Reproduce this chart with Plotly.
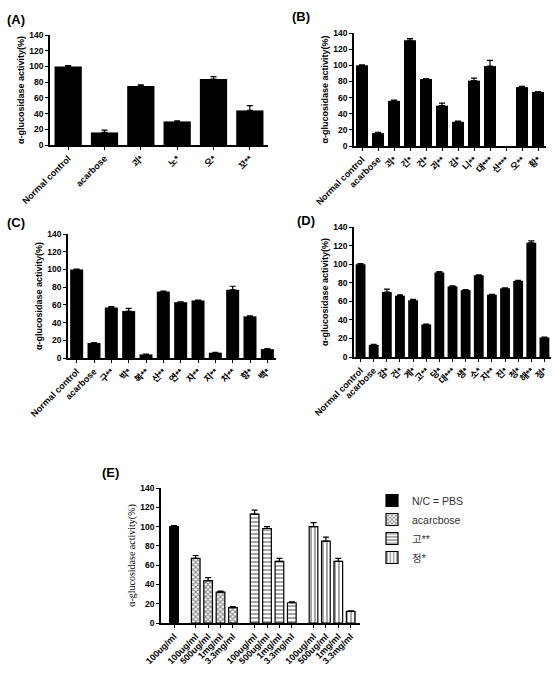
import plotly.graph_objects as go

W, H = 554, 685
FONT = "Arial, Liberation Sans, Noto Sans CJK KR"

# Panel A
a_cats = ["Normal control", "acarbose", "괴*", "노*", "오*", "꼬**"]
a_vals = [100, 16, 75, 30, 84, 44]
a_err = [1, 3, 1.5, 0.8, 3, 6]

# Panel B
b_cats = ["Normal control", "acarbose", "괴*", "긴*", "건*", "괴**", "김*", "니**", "대***", "산***", "오**", "황*"]
b_vals = [100, 16, 56, 131, 83, 50, 30, 81, 99, None, 73, 67]
b_err = [0.5, 1, 1, 2, 0.5, 3, 1, 3, 7, None, 1, 0.5]

# Panel C
c_cats = ["Normal control", "acarbose", "구**", "박*", "복**", "산**", "연**", "자**", "지**", "차**", "향*", "백*"]
c_vals = [100, 17, 57, 53, 4, 75, 63, 65, 6, 77, 47, 10]
c_err = [0.5, 0.5, 1, 3, 0.5, 0.5, 0.5, 0.5, 0.5, 4, 0.5, 0.5]

# Panel D
d_cats = ["Normal control", "acarbose", "감*", "건*", "계*", "고**", "당*", "대***", "생*", "소*", "지**", "진*", "청*", "해**", "정*"]
d_vals = [100, 13, 70, 66, 61, 35, 91, 76, 72, 88, 67, 74, 82, 123, 21]
d_err = [0.5, 0.5, 3, 1, 1, 0.5, 1, 0.5, 0.5, 0.5, 0.5, 0.5, 0.5, 2, 0.5]

# Panel E
e_groups = ["N/C = PBS", "acarcbose", "고**", "정*"]
e_labels = [["100ug/ml"],
            ["100ug/ml", "500ug/ml", "1mg/ml", "3.3mg/ml"],
            ["100ug/ml", "500ug/ml", "1mg/ml", "3.3mg/ml"],
            ["100ug/ml", "500ug/ml", "1mg/ml", "3.3mg/ml"]]
e_vals = [[100], [67, 44, 32, 16], [113, 98, 64, 21], [100, 85, 64, 12]]
e_errs = [[1], [3, 3, 1, 1], [4, 2, 3, 1], [4, 4, 3, 0.5]]
e_patterns = ["", "x", "-", "|"]

fig = go.Figure()

def px_dom_x(a, b):
    return [a / W, b / W]

def px_dom_y(top, bottom):
    return [1 - bottom / H, 1 - top / H]

panels = [
    ("", a_cats, a_vals, a_err, px_dom_x(50, 268), px_dom_y(35, 145)),
    ("2", b_cats, b_vals, b_err, px_dom_x(354, 546), px_dom_y(33, 146)),
    ("3", c_cats, c_vals, c_err, px_dom_x(68, 276), px_dom_y(234, 358)),
    ("4", d_cats, d_vals, d_err, px_dom_x(354, 551), px_dom_y(227, 357)),
]

ytickfont = dict(family=FONT, size=8.5, color="black", weight="bold")
xtickfont = dict(family=FONT, size=9, color="black", weight="bold")
axis_common = dict(showline=True, linecolor="black", color="black", linewidth=1.5, ticks="outside",
                   ticklen=3, tickwidth=1.2, tickcolor="black", showgrid=False, zeroline=False,
                   automargin=False)

for suf, cats, vals, errs, xd, yd in panels:
    fig.add_trace(go.Bar(
        x=cats, y=vals, marker=dict(color="black", line=dict(color="black", width=0)),
        error_y=dict(type="data", array=errs, arrayminus=[0] * len(errs), symmetric=False,
                     color="black", thickness=1.2, width=3),
        xaxis="x" + suf, yaxis="y" + suf, showlegend=False))
    fig.layout["xaxis" + suf] = dict(domain=xd, anchor="y" + suf, tickangle=-45,
                                     tickfont=xtickfont, **axis_common)
    fig.layout["yaxis" + suf] = dict(domain=yd, anchor="x" + suf, range=[0, 140],
                                     tickvals=list(range(0, 141, 20)), tickfont=ytickfont,
                                     title=dict(text="α-glucosidase activity(%)",
                                                font=dict(family=FONT, size=9, color="black", weight="bold"),
                                                standoff=3),
                                     **axis_common)

# Panel E: positions derived from bar index with a gap between groups
k = 0
tick_pos, tick_txt = [], []
for g, (name, labels, vals, errs, pat) in enumerate(zip(e_groups, e_labels, e_vals, e_errs, e_patterns)):
    xs = []
    for lab in labels:
        xs.append(k + 0.75 * g)
        k += 1
    tick_pos += xs
    tick_txt += labels
    if pat == "":
        marker = dict(color="black", line=dict(color="black", width=1.2))
    else:
        marker = dict(color="white", line=dict(color="black", width=1.2),
                      pattern=dict(shape=pat, fgcolor="black", bgcolor="white",
                                   size=4 if pat != "x" else 3.5, solidity=0.35 if pat != "x" else 0.5))
    fig.add_trace(go.Bar(
        x=xs, y=vals, name=name, width=0.7, marker=marker,
        error_y=dict(type="data", array=errs, arrayminus=[0] * len(errs), symmetric=False,
                     color="black", thickness=1.2, width=3),
        xaxis="x5", yaxis="y5", showlegend=True))

fig.layout["xaxis5"] = dict(domain=px_dom_x(161, 360), anchor="y5", range=[-1.05, 15.0],
                            tickvals=tick_pos, ticktext=tick_txt, tickangle=-45,
                            tickfont=xtickfont, **axis_common)
fig.layout["yaxis5"] = dict(domain=px_dom_y(488, 623), anchor="x5", range=[0, 140],
                            tickvals=list(range(0, 141, 20)), tickfont=ytickfont,
                            title=dict(text="α-glucosidase activity(%)",
                                       font=dict(family="Liberation Serif, Times New Roman, serif", size=10, color="black"),
                                       standoff=3),
                            **axis_common)

for txt, x, y in [("(A)", 5, 20), ("(B)", 290, 17), ("(C)", 5, 222), ("(D)", 295, 220), ("(E)", 100, 473)]:
    fig.add_annotation(text="<b>%s</b>" % txt, x=x / W, y=1 - y / H, xref="paper", yref="paper",
                       xanchor="left", yanchor="middle", showarrow=False,
                       font=dict(family=FONT, size=13, color="black"))

fig.update_layout(
    width=W, height=H, margin=dict(l=0, r=0, t=0, b=0),
    paper_bgcolor="white", plot_bgcolor="white",
    bargap=0.25, barmode="overlay",
    legend=dict(x=372 / W, y=1 - 486 / H, xanchor="left", yanchor="top",
                font=dict(family=FONT, size=10.5, color="#333"),
                tracegroupgap=0, itemwidth=30, bgcolor="rgba(0,0,0,0)"),
)

fig.write_html("out.html")
